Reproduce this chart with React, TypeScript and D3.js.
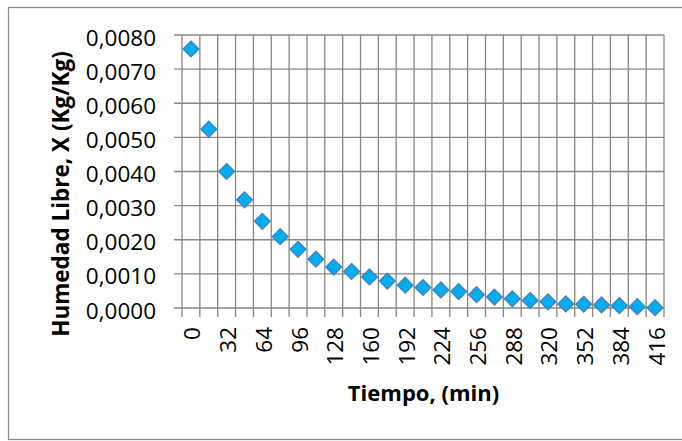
import React from "react";
import * as d3 from "d3";

const tiempo: number[] = [0, 16, 32, 48, 64, 80, 96, 112, 128, 144, 160, 176, 192, 208, 224, 240, 256, 272, 288, 304, 320, 336, 352, 368, 384, 400, 416];
const humedad: number[] = [0.00759, 0.00524, 0.0040, 0.00317, 0.00254, 0.00209, 0.00172, 0.00143, 0.0012, 0.00107, 0.00091, 0.00079, 0.00067, 0.0006, 0.00053, 0.00048, 0.00039, 0.00032, 0.00027, 0.00022, 0.00018, 0.00012, 0.00011, 0.00009, 0.00007, 0.00004, 0.00001];
const yTicks: number[] = [0, 0.001, 0.002, 0.003, 0.004, 0.005, 0.006, 0.007, 0.008];
const xLabels: number[] = tiempo.filter((_, i) => i % 2 === 0);

const W = 682;
const H = 441;
const L = 182, R = 664, T = 35, B = 308;
const FONT = "'Open Sans', 'Liberation Sans', sans-serif";
const GRID = "#868686";

export default function App() {
  const x = d3.scaleBand<string>().domain(tiempo.map(String)).range([L, R]).padding(0);
  const y = d3.scaleLinear().domain([0, 0.008]).range([B, T]);
  const bw = x.bandwidth();
  const fmt = (v: number) => v.toFixed(4).replace(".", ",");
  const bounds = tiempo.map((t) => x(String(t))!).concat([R]);
  const diamond = d3.symbol().type(d3.symbolDiamond2).size(160)();

  return (
    <svg width={W} height={H} style={{ position: "absolute", left: 0, top: 0, background: "#fff" }}>
      <rect x={8.5} y={7.5} width={690} height={432} fill="#fff" stroke="#8c8c8c" strokeWidth={1.3} />
      {yTicks.map((v) => (
        <line key={"h" + v} x1={L - 8} x2={R} y1={y(v)} y2={y(v)} stroke={GRID} strokeWidth={1.3} />
      ))}
      {bounds.map((bx, i) => (
        <line key={"v" + i} x1={bx} x2={bx} y1={T} y2={B + 9} stroke={GRID} strokeWidth={1.3} />
      ))}
      {yTicks.map((v) => (
        <text key={"yl" + v} x={156} y={y(v) + 2} textAnchor="end" dominantBaseline="central" fontFamily={FONT} fontSize={22.5} fill="#000">
          {fmt(v)}
        </text>
      ))}
      {xLabels.map((t) => {
        const cx = x(String(t))! + bw / 2;
        return (
          <text key={"xl" + t} transform={`translate(${cx + 1},327) rotate(-90)`} textAnchor="end" dominantBaseline="central" fontFamily={FONT} fontSize={22.5} fill="#000">
            {t}
          </text>
        );
      })}
      {tiempo.map((t, i) => (
        <path key={"m" + t} d={diamond!} transform={`translate(${x(String(t))! + bw / 2},${y(humedad[i])})`} fill="#00ADEF" stroke="#4A7EBB" strokeWidth={1.3} />
      ))}
      <text transform="translate(60,194) rotate(-90)" textAnchor="middle" dominantBaseline="central" fontFamily={FONT} fontWeight="bold" fontSize={22.5} fill="#000">
        Humedad Libre, X (Kg/Kg)
      </text>
      <text x={423.5} y={392} textAnchor="middle" dominantBaseline="central" fontFamily={FONT} fontWeight="bold" fontSize={22} fill="#000">
        Tiempo, (min)
      </text>
    </svg>
  );
}
